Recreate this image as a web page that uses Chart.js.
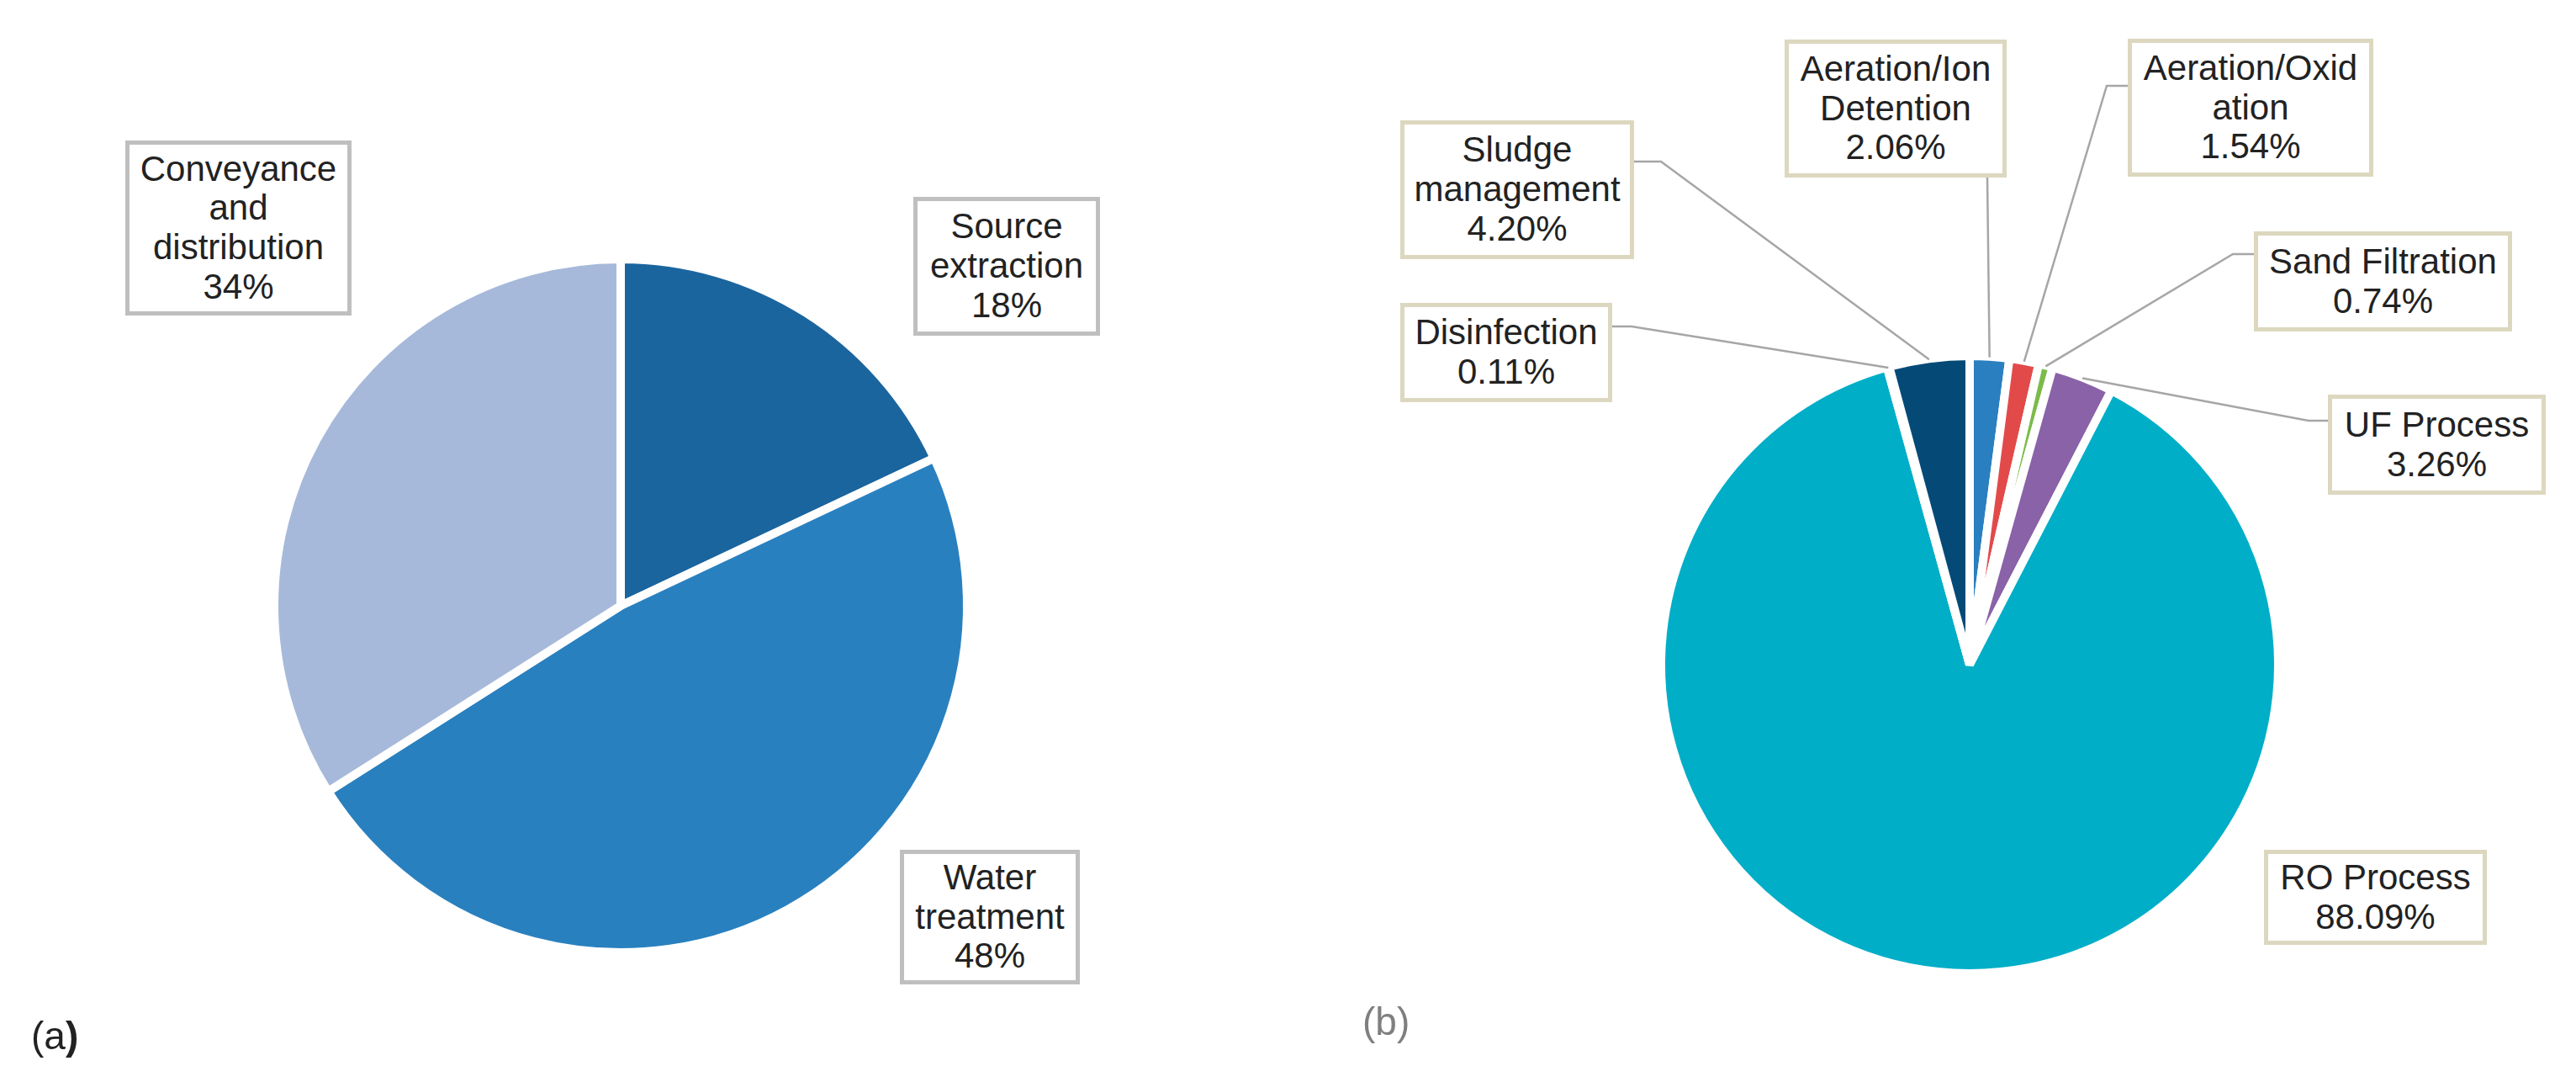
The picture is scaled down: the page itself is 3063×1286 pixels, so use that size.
<!DOCTYPE html>
<html>
<head>
<meta charset="utf-8">
<script src="https://cdn.jsdelivr.net/npm/chart.js@4/dist/chart.umd.min.js"></script>
<style>
    html, body { margin: 0; padding: 0; background: #fff; }
    body { width: 3063px; height: 1286px; position: relative; overflow: hidden; font-family: "Liberation Sans", Arial, sans-serif; }
    canvas { position: absolute; left: 0; top: 0; }
    .caja {
        position: absolute; box-sizing: border-box; background: #fff;
        display: flex; align-items: center; justify-content: center;
        text-align: center; white-space: pre-line;
        font-size: 42px; line-height: 46.7px; color: #222;
    }
    .panel { position: absolute; font-size: 46px; line-height: 46px; }
</style>
</head>
<body>
<canvas id="graficoA" width="3063" height="1286"></canvas>
<canvas id="graficoB" width="3063" height="1286"></canvas>

<script>
// (a) energy share by stage
const etapas = ['Source\nextraction', 'Water\ntreatment', 'Conveyance\nand\ndistribution'];
const porcEtapas = [18, 48, 34];
const coloresEtapas = ['#1b659f', '#2980bf', '#a6b9da'];

// (b) energy share by treatment process
const procesos = ['Aeration/Ion\nDetention', 'Aeration/Oxid\nation', 'Sand Filtration', 'UF Process', 'RO Process', 'Disinfection', 'Sludge\nmanagement'];
const porcProcesos = [2.06, 1.54, 0.74, 3.26, 88.09, 0.11, 4.20];
const coloresProcesos = ['#2a7fc0', '#e24a4a', '#7cbb4b', '#8a62a8', '#00aec7', '#f59d30', '#054a77'];

// label boxes: left, top, width, height
const cajasA = [
    [1086, 234, 222, 165],
    [1070, 1010, 214, 160],
    [149, 167, 269, 208]
];
const cajasB = [
    [2122, 47, 264, 164],
    [2530, 46, 292, 164],
    [2680, 275, 307, 119],
    [2768, 469, 259, 119],
    [2692, 1010, 265, 113],
    [1665, 360, 252, 118],
    [1665, 143, 278, 165]
];
// leader line points from the box towards the slice (last point is on the slice)
const guiasB = [
    [[2363, 211]],
    [[2530, 102], [2505, 102]],
    [[2680, 302], [2655, 302]],
    [[2768, 500], [2745, 500]],
    null,
    [[1917, 388], [1940, 388]],
    [[1943, 192], [1975, 192]]
];

const BORDE = 10;

function ponerCajas(nombres, valores, decimales, cajas, colorBorde) {
    nombres.forEach((nombre, i) => {
        const c = cajas[i];
        const div = document.createElement('div');
        div.className = 'caja';
        div.style.left = c[0] + 'px';
        div.style.top = c[1] + 'px';
        div.style.width = c[2] + 'px';
        div.style.height = c[3] + 'px';
        div.style.border = '5px solid ' + colorBorde;
        div.textContent = nombre + '\n' + valores[i].toFixed(decimales) + '%';
        document.body.appendChild(div);
    });
}

function ponerPanel(html, x, y, color) {
    const div = document.createElement('div');
    div.className = 'panel';
    div.style.left = x + 'px';
    div.style.top = y + 'px';
    div.style.color = color;
    div.innerHTML = html;
    document.body.appendChild(div);
}

const lineasGuia = {
    id: 'lineasGuia',
    afterDatasetsDraw(chart) {
        const ctx = chart.ctx;
        const arcos = chart.getDatasetMeta(0).data;
        ctx.save();
        ctx.strokeStyle = '#a6a6a6';
        ctx.lineWidth = 2.5;
        guiasB.forEach((puntos, i) => {
            if (!puntos) return;
            const arco = arcos[i];
            const ang = (arco.startAngle + arco.endAngle) / 2;
            const r = arco.outerRadius - BORDE / 2 + 4;
            ctx.beginPath();
            ctx.moveTo(puntos[0][0], puntos[0][1]);
            for (let k = 1; k < puntos.length; k++) ctx.lineTo(puntos[k][0], puntos[k][1]);
            ctx.lineTo(arco.x + Math.cos(ang) * r, arco.y + Math.sin(ang) * r);
            ctx.stroke();
        });
        ctx.restore();
    }
};

function crearPie(id, nombres, valores, colores, radio, padding, plugins) {
    const ctx = document.getElementById(id).getContext('2d');
    return new Chart(ctx, {
        type: 'pie',
        data: {
            labels: nombres.map(n => n.replace(/\n/g, ' ')),
            datasets: [{
                data: valores,
                backgroundColor: colores,
                borderColor: '#ffffff',
                borderWidth: BORDE
            }]
        },
        options: {
            responsive: false,
            animation: false,
            radius: radio,
            layout: { padding: padding },
            plugins: {
                legend: { display: false },
                tooltip: { enabled: false }
            }
        },
        plugins: plugins
    });
}

crearPie('graficoA', etapas, porcEtapas, coloresEtapas, 407 + BORDE / 2,
    { left: 338, right: 3063 - 1138, top: 320, bottom: 1286 - 1120 }, []);
crearPie('graficoB', procesos, porcProcesos, coloresProcesos, 362 + BORDE / 2,
    { left: 1942, right: 3063 - 2742, top: 390, bottom: 1286 - 1190 }, [lineasGuia]);

ponerCajas(etapas, porcEtapas, 0, cajasA, '#bfbfbf');
ponerCajas(procesos, porcProcesos, 2, cajasB, '#dcd7bf');

ponerPanel('(a<b>)</b>', 37, 1208, '#222');
ponerPanel('(b)', 1620, 1191, '#7f7f7f');
</script>
</body>
</html>
